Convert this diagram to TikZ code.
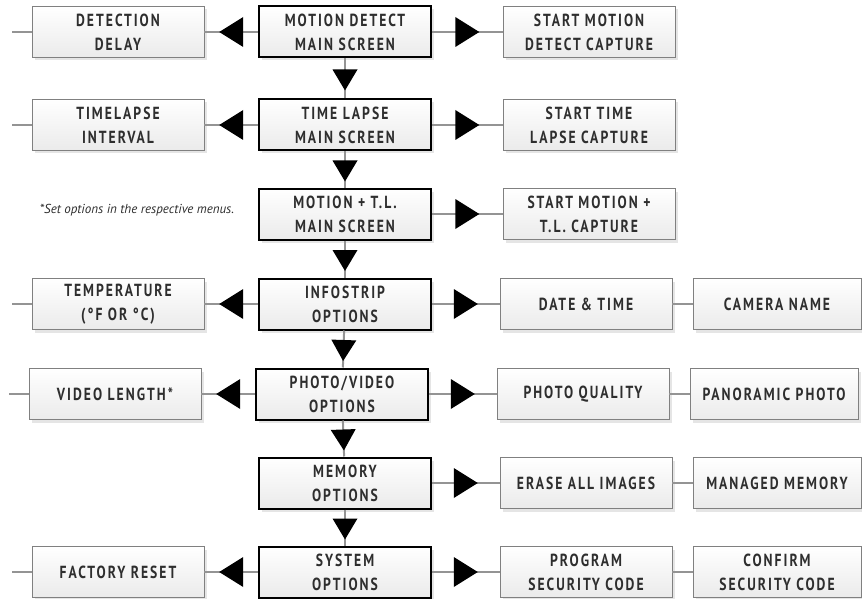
\documentclass[tikz,border=0pt]{standalone}
\usepackage{fontspec}
\setmainfont{PT Sans}[LetterSpace=11.5,FakeStretch=0.78]
\newfontfamily\notefont{PT Sans}
\usetikzlibrary{arrows.meta,shadows,decorations.markings}
\definecolor{ink}{HTML}{2E2E2E}
\definecolor{wire}{HTML}{949494}
\tikzset{
  box/.style={draw=black!50, line width=0.8pt, top color=white, bottom color=black!8,
    minimum width=172pt, minimum height=51pt, inner sep=0pt, align=center,
    text=ink, font=\fontsize{17.5}{24}\selectfont\bfseries,
    drop shadow={shadow xshift=3pt, shadow yshift=-3pt, fill=black!10, opacity=1}},
  farbox/.style={box, minimum width=168pt},
  mainbox/.style={box, draw=black, line width=2pt, minimum width=172pt, minimum height=51pt},
  link/.style={draw=wire, line width=2pt},
  side/.style={postaction={decorate, decoration={markings,
    mark=at position 0.5 with {\arrow[xshift=12pt]{Triangle[length=24pt,width=30pt,line width=0pt,black]}}}}},
  down/.style={postaction={decorate, decoration={markings,
    mark=at position 0.5 with {\arrow[xshift=12pt]{Triangle[length=21pt,width=25pt,line width=0pt,black]}}}}},
  note/.style={text=ink, font=\notefont\itshape\fontsize{13}{15}\selectfont},
}
\begin{document}
\begin{tikzpicture}[x=1pt,y=-1pt]
\useasboundingbox (0,0) rectangle (862,599);
% main column
\node[mainbox] (md) at (345,32) {MOTION DETECT\\MAIN SCREEN};
\node[mainbox] (tl) at (345,125) {TIME LAPSE\\MAIN SCREEN};
\node[mainbox] (mt) at (345,214) {MOTION + T.L.\\MAIN SCREEN};
\node[mainbox] (info) at (345,304) {INFOSTRIP\\OPTIONS};
\node[mainbox] (pv) at (342,394) {PHOTO/VIDEO\\OPTIONS};
\node[mainbox] (mem) at (345,483) {MEMORY\\OPTIONS};
\node[mainbox] (sys) at (345,572) {SYSTEM\\OPTIONS};
% left column
\node[box] (delay) at (118,32) {DETECTION\\DELAY};
\node[box] (interval) at (118,125) {TIMELAPSE\\INTERVAL};
\node[box] (temp) at (118,304) {TEMPERATURE\\(°F OR °C)};
\node[box] (vlen) at (115,394) {VIDEO LENGTH*};
\node[box] (reset) at (118,572) {FACTORY RESET};
\node[note] (hint) at (137,210) {*Set options in the respective menus.};
% right column
\node[box] (mdcap) at (589,32) {START MOTION\\DETECT CAPTURE};
\node[box] (tlcap) at (589,125) {START TIME\\LAPSE CAPTURE};
\node[box] (mtcap) at (589,214) {START MOTION +\\T.L. CAPTURE};
\node[box] (date) at (586,304) {DATE \& TIME};
\node[box] (qual) at (583,394) {PHOTO QUALITY};
\node[box] (erase) at (586,483) {ERASE ALL IMAGES};
\node[box] (prog) at (586,572) {PROGRAM\\SECURITY CODE};
% far right column
\node[farbox] (cam) at (777,304) {CAMERA NAME};
\node[farbox] (pano) at (774,394) {PANORAMIC PHOTO};
\node[farbox] (manage) at (777,483) {MANAGED MEMORY};
\node[farbox] (confirm) at (777,572) {CONFIRM\\SECURITY CODE};
% loose ends on the left
\coordinate (e1) at (12,32);
\coordinate (e2) at (12,125);
\coordinate (e4) at (12,304);
\coordinate (e5) at (9,394);
\coordinate (e7) at (12,572);
\foreach \a/\b in {e1/delay,e2/interval,e4/temp,e5/vlen,e7/reset,date/cam,qual/pano,erase/manage,prog/confirm}
  \draw[link] (\a) -- (\b);
\foreach \a/\b in {md/delay,tl/interval,info/temp,pv/vlen,sys/reset,md/mdcap,tl/tlcap,mt/mtcap,info/date,pv/qual,mem/erase,sys/prog}
  \draw[link,side] (\a) -- (\b);
\foreach \a/\b in {md/tl,tl/mt,mt/info,info/pv,pv/mem,mem/sys}
  \draw[link,down] (\a) -- (\b);
\end{tikzpicture}
\end{document}
